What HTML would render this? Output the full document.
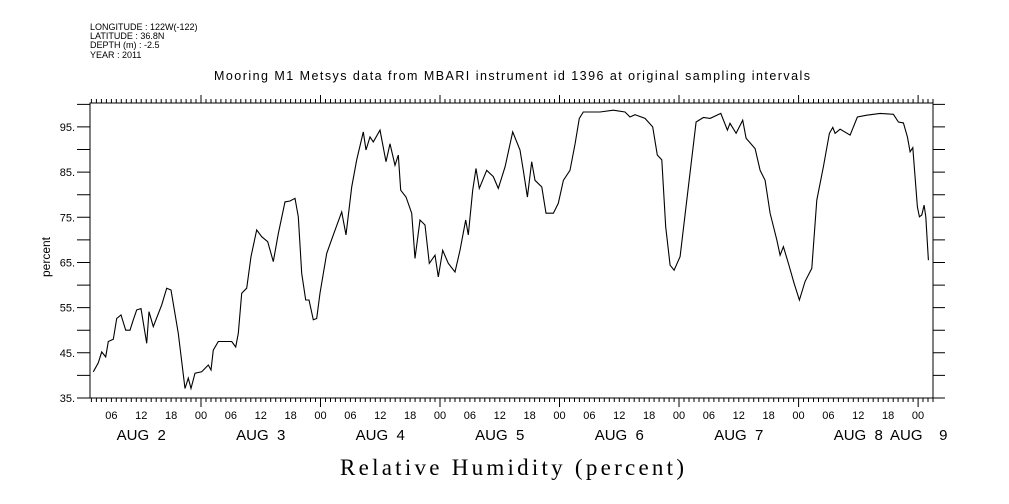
<!DOCTYPE html>
<html><head><meta charset="utf-8"><style>
html,body{margin:0;padding:0;background:#fff;}
svg{display:block;}
text{font-family:"Liberation Sans",sans-serif;fill:#000;}
</style></head><body>
<svg id="chart" width="1009" height="504" viewBox="0 0 1009 504" xmlns="http://www.w3.org/2000/svg">
<g font-size="9">
<text x="90" y="30">LONGITUDE : 122W(-122)</text>
<text x="90" y="39">LATITUDE : 36.8N</text>
<text x="90" y="48">DEPTH (m) : -2.5</text>
<text x="90" y="58">YEAR : 2011</text>
</g>
<text x="512" y="80" font-size="12.5" text-anchor="middle" textLength="596">Mooring M1 Metsys data from MBARI instrument id 1396 at original sampling intervals</text>
<text x="340" y="475" font-size="23" font-family="Liberation Serif,serif" textLength="344" style="font-family:'Liberation Serif',serif">Relative Humidity (percent)</text>
<text transform="translate(50,257) rotate(-90)" font-size="12" text-anchor="middle">percent</text>
<rect x="90" y="103" width="843" height="295" fill="none" stroke="#000" stroke-width="1"/>
<g id="axes"></g>
<path id="series" fill="none" stroke="#000" stroke-width="1.1"/>
</svg>
<script>
// hours since Aug 2 00:00 and relative humidity values (percent)
const hours = [2.37,3.37,4.06,4.86,5.38,6.39,7.07,7.93,8.88,9.74,10.40,11.09,11.95,13.09,13.56,14.42,16.11,17.11,17.97,19.44,20.79,21.45,21.99,22.79,24.14,25.47,26.01,26.47,27.47,28.82,30.17,30.97,31.49,32.17,33.18,34.04,35.19,36.19,37.40,38.52,39.53,40.87,41.87,42.88,43.54,44.22,45.03,45.69,46.55,47.24,47.90,49.25,50.57,52.26,53.12,54.27,55.27,56.60,57.14,57.94,58.61,59.95,61.16,61.96,62.96,63.63,64.11,65.17,66.32,66.98,67.99,68.99,69.85,71.0,71.66,72.54,73.67,75.01,76.02,77.16,77.68,78.57,79.23,79.89,81.38,82.71,83.71,85.06,86.60,88.07,88.73,89.54,90.42,91.08,92.43,93.29,94.76,95.76,96.77,98.11,99.12,99.98,100.78,104.13,106.80,109.15,110.16,111.16,113.17,114.72,115.64,116.53,117.33,118.20,119.00,120.21,121.55,123.42,124.89,126.24,128.38,129.71,130.24,131.45,132.79,133.46,135.27,136.27,137.28,138.28,139.63,140.29,140.95,141.96,143.10,144.17,145.31,146.66,147.66,148.99,150.19,150.88,151.34,152.34,154.35,155.82,157.70,160.37,163.04,164.05,165.05,165.86,166.40,166.94,167.86,168.27,168.75,169.21,169.55,170.07];
const humidity = [40.8,42.8,45.2,44.1,47.5,48,52.6,53.4,50,50,52.3,54.5,54.8,47.1,54.1,50.8,55.6,59.3,58.9,49.3,37.1,39.4,37.1,40.5,40.8,42.3,41.2,45.6,47.5,47.5,47.5,46.3,49.3,58.2,59.3,66.3,72.2,70.7,69.6,65.2,71.4,78.4,78.6,79.2,75.1,62.6,56.7,56.7,52.3,52.6,58.2,67.0,71.1,76.2,71.1,81.7,87.7,93.9,89.9,92.8,91.7,94.3,87.3,91.3,86.5,88.8,81,79.5,75.9,65.9,74.4,73.3,64.8,66.6,61.8,67.7,64.8,62.9,67.7,74.4,71.1,81,85.8,81.4,85.4,84,81.4,86.2,93.9,89.9,85.4,79.5,87.3,83.2,81.7,75.9,75.9,78.1,83.2,85.4,91.3,96.9,98.3,98.3,98.7,98.3,97.2,97.7,96.9,95,88.8,87.7,72.9,64.4,63.3,66.3,78.8,96.1,97.1,96.9,98,94.3,95.8,93.6,96.5,92.5,90.2,85.4,83.2,75.9,70,66.6,68.5,64.8,60.4,56.7,60.8,63.7,78.8,86.2,93.6,94.9,93.6,94.5,93.2,97.2,97.6,98,97.8,96.1,95.9,92.8,89.5,90.4,77.3,75.1,75.5,77.7,75.1,65.5];
const yTicks = [35,45,55,65,75,85,95];
const hourLabels = ["06","12","18","00"];
const dayLabels = ["AUG  2","AUG  3","AUG  4","AUG  5","AUG  6","AUG  7","AUG  8"];

const X0=90,X1=933,Y0=398,Y1=103;
const H0=1.71,H1=171.0,V0=35,V1=100.3;
const xs=h=>X0+(h-H0)/(H1-H0)*(X1-X0);
const ys=v=>Y0-(v-V0)/(V1-V0)*(Y0-Y1);
const NS="http://www.w3.org/2000/svg";
const axes=document.getElementById('axes');
function mk(tag,attrs){const e=document.createElementNS(NS,tag);for(const k in attrs)e.setAttribute(k,attrs[k]);axes.appendChild(e);return e;}

let d='';
hours.forEach((h,i)=>{d+=(i?'L':'M')+xs(h).toFixed(1)+','+ys(humidity[i]).toFixed(1);});
document.getElementById('series').setAttribute('d',d);

// y ticks every 5, both sides
let tp='';
for(let v=35;v<=100;v+=5){const y=ys(v).toFixed(1);tp+=`M77,${y}H90M933,${y}H945`;}
// x ticks every hour
for(let h=Math.ceil(H0);h<=H1;h++){const x=xs(h).toFixed(1);const major=h%24===0;
 tp+=`M${x},103V${major?95:99}M${x},398V${major?407:402}`;}
const t=mk('path',{d:tp,stroke:'#000','stroke-width':1,fill:'none'});



yTicks.forEach(v=>{
 const e=mk('text',{x:75,y:ys(v)+4,'font-size':11,'text-anchor':'end'});
 e.textContent=v+'.';
 
 
});
for(let h=6;h<=H1;h+=6){
 const e=mk('text',{x:xs(h),y:419,'font-size':11,'text-anchor':'middle'});
 e.textContent=hourLabels[(h/6-1)%4];
 
 
}
dayLabels.forEach((s,i)=>{
 const e=mk('text',{x:xs(12+24*i),y:440,'font-size':15,'text-anchor':'middle','xml:space':'preserve'});
 e.setAttribute('style','white-space:pre');
 e.textContent=s;
 
 
});
const e9=mk('text',{x:890,y:440,'font-size':15});
e9.setAttribute('style','white-space:pre');
e9.textContent='AUG    9';


</script>
</body></html>
